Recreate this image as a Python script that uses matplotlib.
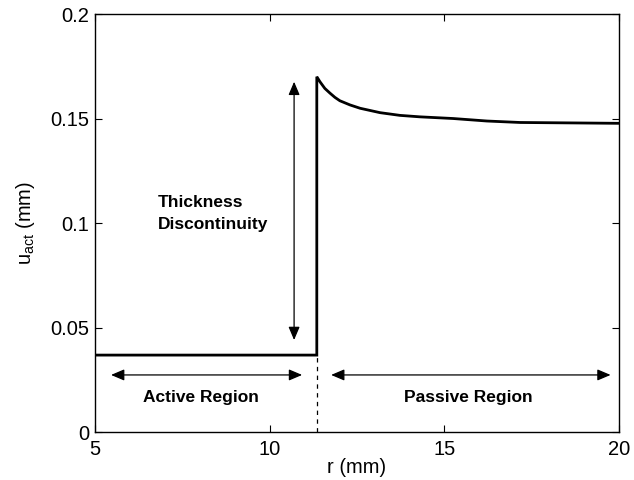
import matplotlib
matplotlib.use("Agg")
import matplotlib.pyplot as plt

plt.rcParams['font.family'] = ['Liberation Sans', 'DejaVu Sans']
plt.rcParams['mathtext.fontset'] = 'custom'
plt.rcParams['mathtext.rm'] = 'Liberation Sans'
plt.rcParams['mathtext.it'] = 'Liberation Sans:italic'

# Radial displacement profile: flat in the active region, jump, then decay
r = [5.0, 11.35, 11.35, 11.44, 11.58, 11.73, 11.87, 12.01, 12.30, 12.59,
     13.16, 13.73, 14.30, 15.25, 16.22, 17.17, 18.60, 20.0]
u = [0.0368, 0.0368, 0.170, 0.1676, 0.1644, 0.1621, 0.1601, 0.1585, 0.1565,
     0.1549, 0.1528, 0.1515, 0.1508, 0.1500, 0.1488, 0.1481, 0.1479, 0.1477]

r_edge = 11.35          # boundary between active and passive regions
u_active = 0.0368

xticks = [5, 10, 15, 20]
yticks = [0, 0.05, 0.1, 0.15, 0.2]
yticklabels = ['0', '0.05', '0.1', '0.15', '0.2']

fig = plt.figure(figsize=(6.34, 4.8), dpi=100)
ax = fig.add_axes([0.1498, 0.1, 0.8265, 0.8708])

ax.plot(r, u, color='black', lw=2.0, solid_joinstyle='miter')
ax.plot([r_edge, r_edge], [0, u_active], color='black', lw=0.9,
        linestyle=(0, (3.5, 3.5)))

arrow = dict(arrowstyle='<|-|>,head_length=0.8,head_width=0.34',
             color='black', lw=0.9, shrinkA=0, shrinkB=0, mutation_scale=10)
ax.annotate('', xy=(10.70, 0.1676), xytext=(10.70, 0.044), arrowprops=arrow)
ax.annotate('', xy=(5.46, 0.0273), xytext=(10.93, 0.0273), arrowprops=arrow)
ax.annotate('', xy=(11.76, 0.0273), xytext=(19.76, 0.0273), arrowprops=arrow)

ax.text(6.80, 0.1045, 'Thickness\nDiscontinuity', fontsize=12.5, fontweight='bold',
        ha='left', va='center', linespacing=1.55)
ax.text(8.03, 0.0165, 'Active Region', fontsize=12.5, fontweight='bold',
        ha='center', va='center')
ax.text(15.69, 0.0163, 'Passive Region', fontsize=12.5, fontweight='bold',
        ha='center', va='center')

ax.set_xlim(5, 20)
ax.set_ylim(0, 0.2)
ax.set_xticks(xticks)
ax.set_yticks(yticks)
ax.set_yticklabels(yticklabels)
ax.tick_params(direction='in', length=5, width=0.8, labelsize=14.5,
               top=True, right=True, pad=4)
ax.tick_params(axis='x', pad=6)
for s in ax.spines.values():
    s.set_linewidth(1.0)

ax.set_xlabel('r (mm)', fontsize=14.5, labelpad=-1)
ax.set_ylabel(r'u$_{\mathrm{act}}$ (mm)', fontsize=14.5, labelpad=10)

fig.savefig('out.png', dpi=100)
